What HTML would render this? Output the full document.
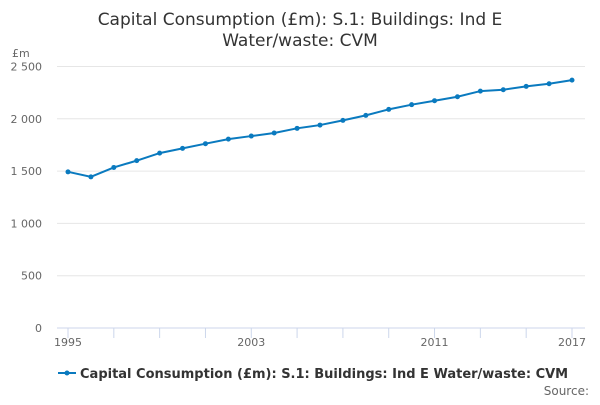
<!DOCTYPE html>
<html><head><meta charset="utf-8"><style>
body{margin:0;background:#fff;font-family:"Liberation Sans","DejaVu Sans",sans-serif}
svg text{font-family:"DejaVu Sans","Liberation Sans",sans-serif}
</style></head><body>
<svg id="c" width="600" height="400">
<text x="300" y="25" text-anchor="middle" font-size="17" fill="#333"><tspan x="300">Capital Consumption (£m): S.1: Buildings: Ind E</tspan><tspan x="300" dy="21">Water/waste: CVM</tspan></text>
<text x="12" y="57" font-size="11" fill="#666">£m</text>
<g id="grid"></g><g id="xt"></g><g id="series"></g>
<g>
<line x1="58" y1="373" x2="76" y2="373" stroke="#0a7abf" stroke-width="2"/><circle cx="67" cy="373" r="2.5" fill="#0a7abf"/>
<text x="80" y="378" font-size="13" font-weight="bold" fill="#333">Capital Consumption (£m): S.1: Buildings: Ind E Water/waste: CVM</text></g>
<text x="589" y="395" text-anchor="end" font-size="12" fill="#666">Source:</text>
</svg>
<script>
const years=[1995,1996,1997,1998,1999,2000,2001,2002,2003,2004,2005,2006,2007,2008,2009,2010,2011,2012,2013,2014,2015,2016,2017];
const values=[1493,1445,1535,1600,1672,1717,1762,1806,1835,1864,1909,1940,1985,2033,2090,2135,2173,2211,2265,2278,2310,2335,2370];
const yTicks=[0,500,1000,1500,2000,2500];
const yTickLabels=["0","500","1 000","1 500","2 000","2 500"];
const xLabels=[1995,2003,2011,2017];
const NS="http://www.w3.org/2000/svg";
const X=v=>68+(v-1995)*(572-68)/22, Y=v=>328-v*(328-66.5)/2500;
function mk(t,a,p){const e=document.createElementNS(NS,t);for(const k in a)e.setAttribute(k,a[k]);p.appendChild(e);return e;}
const g=document.getElementById('grid');
yTicks.forEach((t,i)=>{
 const l=mk('line',{x1:57,x2:585,y1:Y(t),y2:Y(t),stroke:t==0?'#ccd6eb':'#e6e6e6'},g);
 
 
 const tx=mk('text',{x:42,y:Y(t)+4,'text-anchor':'end','font-size':11,fill:'#666'},g);tx.textContent=yTickLabels[i];
 
 
});
const xt=document.getElementById('xt');
for(let y=1995;y<=2017;y+=2){const l=mk('line',{x1:X(y),x2:X(y),y1:328,y2:338,stroke:'#ccd6eb'},xt);
 
 }
xLabels.forEach(y=>{const t=mk('text',{x:X(y),y:346,'text-anchor':'middle','font-size':11,fill:'#666'},xt);t.textContent=y;
 
 });
const s=document.getElementById('series');
const p=mk('polyline',{points:years.map((y,i)=>X(y)+','+Y(values[i])).join(' '),fill:'none',stroke:'#0a7abf','stroke-width':2},s);


years.forEach((y,i)=>{const c=mk('circle',{cx:X(y),cy:Y(values[i]),r:2.5,fill:'#0a7abf'},s);
 
 });
</script></body></html>
